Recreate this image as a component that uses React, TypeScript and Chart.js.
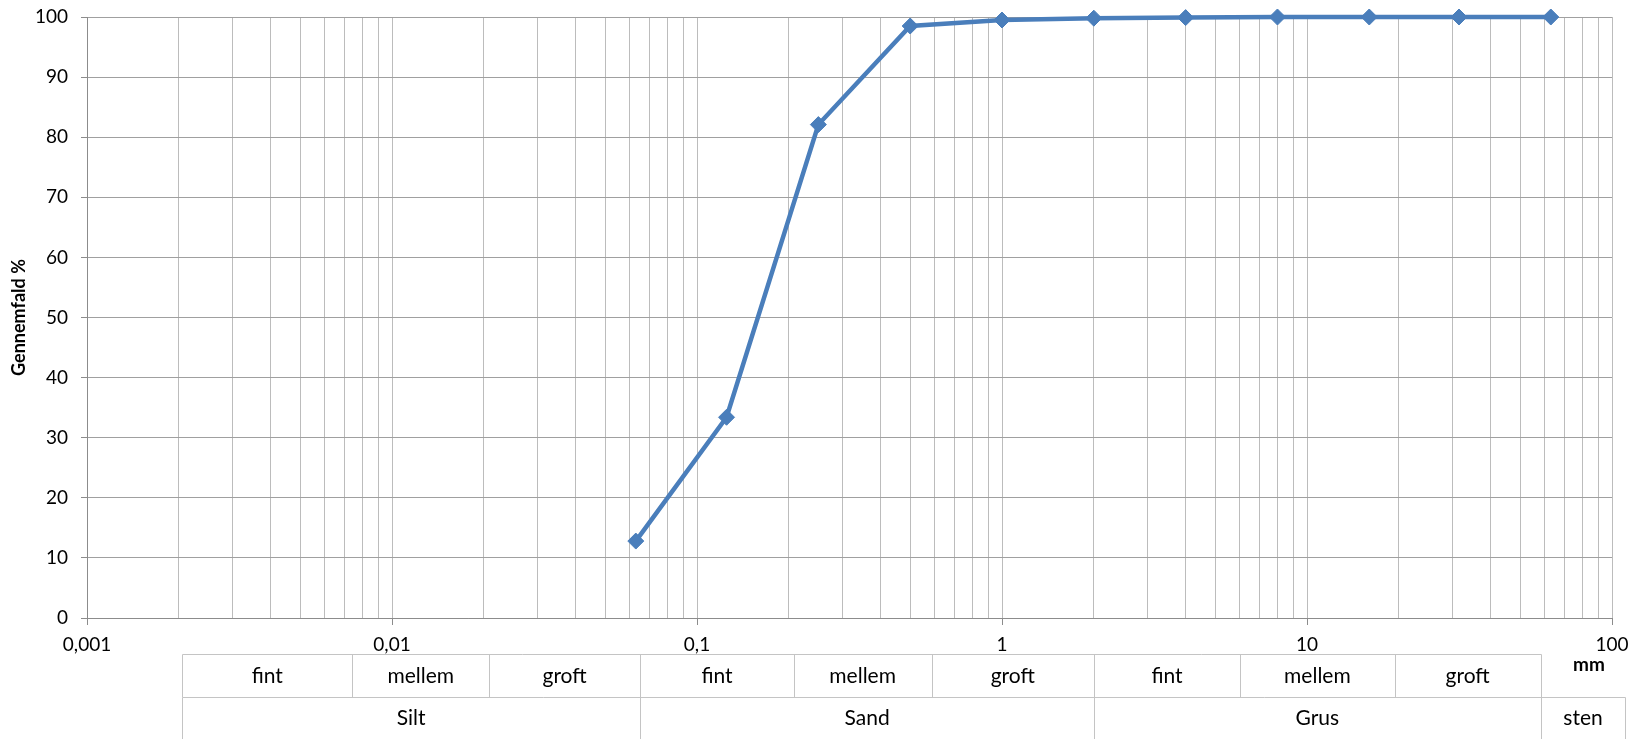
import React, { useEffect, useRef } from 'react';
import { Chart, registerables } from 'chart.js';

Chart.register(...registerables);

// Sieve sizes (mm) and passing percentages
const SIEVE_MM = [0.063, 0.125, 0.25, 0.5, 1, 2, 4, 8, 16, 31.5, 63];
const PASSING_PCT = [12.8, 33.4, 82.1, 98.5, 99.5, 99.8, 99.9, 100, 100, 100, 100];

// Axis ticks
const DECADES = [0.001, 0.01, 0.1, 1, 10, 100];
const DECADE_LABELS = ['0,001', '0,01', '0,1', '1', '10', '100'];
const MINOR_MULTIPLIERS = [2, 3, 4, 5, 6, 7, 8, 9];
const Y_MIN = 0;
const Y_MAX = 100;
const Y_STEP = 10;

// Soil class table (limits in mm)
const SUB_LIMITS = [0.00205, 0.00742, 0.0208, 0.0651, 0.2076, 0.5875, 2.003, 6.03, 19.4, 58.3];
const SUB_LABELS = ['fint', 'mellem', 'groft', 'fint', 'mellem', 'groft', 'fint', 'mellem', 'groft'];
const MAIN_LIMITS = [0.00205, 0.0651, 2.003, 58.3, 110.7];
const MAIN_LABELS = ['Silt', 'Sand', 'Grus', 'sten'];

const Y_TITLE = 'Gennemfald %';
const X_UNIT = 'mm';

const FONT = 'Lato, "Open Sans", sans-serif';

const X_TICK_VALUES: number[] = [];
DECADES.forEach((d, i) => {
  X_TICK_VALUES.push(d);
  if (i < DECADES.length - 1) {
    MINOR_MULTIPLIERS.forEach((m) => X_TICK_VALUES.push(parseFloat((d * m).toPrecision(6))));
  }
});

const decadeIndex = (v: number) => DECADES.findIndex((d) => Math.abs(d - v) / d < 1e-9);

const tablePlugin = {
  id: 'classTable',
  afterDraw(chart: any) {
    const { ctx } = chart;
    const x = chart.scales.x;
    const px = (v: number) => Math.round(x.getPixelForValue(v)) + 0.5;
    const top = 654.5;
    const mid = 697.5;
    const bottom = chart.height + 5;
    ctx.save();
    ctx.strokeStyle = '#c4c4c4';
    ctx.lineWidth = 1;
    ctx.beginPath();
    const l = px(SUB_LIMITS[0]);
    const r1 = px(SUB_LIMITS[SUB_LIMITS.length - 1]);
    const r2 = px(MAIN_LIMITS[MAIN_LIMITS.length - 1]);
    ctx.moveTo(l, top);
    ctx.lineTo(r1, top);
    ctx.moveTo(l, mid);
    ctx.lineTo(r2, mid);
    SUB_LIMITS.forEach((v) => {
      ctx.moveTo(px(v), top);
      ctx.lineTo(px(v), mid);
    });
    MAIN_LIMITS.forEach((v) => {
      ctx.moveTo(px(v), mid);
      ctx.lineTo(px(v), bottom);
    });
    ctx.stroke();

    ctx.fillStyle = '#000';
    ctx.textAlign = 'center';
    ctx.textBaseline = 'middle';
    ctx.font = `21px ${FONT}`;
    SUB_LABELS.forEach((t, i) => {
      const cx = (x.getPixelForValue(SUB_LIMITS[i]) + x.getPixelForValue(SUB_LIMITS[i + 1])) / 2;
      ctx.fillText(t, cx, 676);
    });
    MAIN_LABELS.forEach((t, i) => {
      const cx = (x.getPixelForValue(MAIN_LIMITS[i]) + x.getPixelForValue(MAIN_LIMITS[i + 1])) / 2;
      ctx.fillText(t, cx, 718);
    });
    ctx.font = `bold 19px ${FONT}`;
    ctx.fillText(X_UNIT, 1589, 665);
    ctx.restore();
  },
};

export default function App() {
  const ref = useRef<HTMLCanvasElement | null>(null);

  useEffect(() => {
    if (!ref.current) return;
    const chart = new Chart(ref.current, {
      type: 'line',
      data: {
        datasets: [
          {
            data: SIEVE_MM.map((s, i) => ({ x: s, y: PASSING_PCT[i] })),
            borderColor: '#4a7ebb',
            backgroundColor: '#4a7ebb',
            borderWidth: 4.5,
            pointStyle: 'rectRot',
            pointRadius: 8,
            pointBorderWidth: 1,
            pointBackgroundColor: '#4a7ebb',
            pointBorderColor: '#4a7ebb',
            tension: 0,
            clip: false as any,
          },
        ],
      },
      options: {
        animation: false,
        responsive: false,
        parsing: false as any,
        layout: { padding: { top: 17, right: 19, left: 0, bottom: 0 } },
        plugins: {
          legend: { display: false },
          tooltip: { enabled: false },
        },
        scales: {
          x: {
            type: 'logarithmic',
            min: DECADES[0],
            max: DECADES[DECADES.length - 1],
            afterBuildTicks: (s: any) => {
              s.ticks = X_TICK_VALUES.map((v) => ({ value: v }));
            },
            afterFit: (s: any) => {
              s.height = 121;
              s.paddingLeft = 0;
              s.paddingRight = 0;
            },
            ticks: {
              autoSkip: false,
              maxRotation: 0,
              padding: 8,
              color: '#000',
              font: { family: FONT, size: 19 },
              callback: (v: any) => {
                const i = decadeIndex(Number(v));
                return i >= 0 ? DECADE_LABELS[i] : '';
              },
            },
            grid: {
              color: '#bcbcbc',
              lineWidth: 1,
              tickLength: 7,
              tickColor: (c: any) =>
                c.tick && decadeIndex(c.tick.value) >= 0 ? '#8c8c8c' : 'rgba(0,0,0,0)',
            },
            border: { color: '#8c8c8c', width: 1 },
          },
          y: {
            type: 'linear',
            min: Y_MIN,
            max: Y_MAX,
            afterFit: (s: any) => {
              s.width = 87;
              s.paddingTop = 0;
              s.paddingBottom = 0;
            },
            ticks: {
              stepSize: Y_STEP,
              padding: 13,
              color: '#000',
              font: { family: FONT, size: 19 },
            },
            grid: {
              color: '#a0a0a0',
              lineWidth: 1,
              tickLength: 6,
              tickColor: '#8c8c8c',
            },
            border: { color: '#8c8c8c', width: 1 },
            title: {
              display: true,
              text: Y_TITLE,
              color: '#000',
              font: { family: FONT, size: 18, weight: 'bold' },
              padding: { top: 8, bottom: 0 },
            },
          },
        },
      },
      plugins: [tablePlugin],
    });
    return () => chart.destroy();
  }, []);

  return (
    <div style={{ position: 'absolute', left: 0, top: 0, width: 1631, height: 739 }}>
      <canvas ref={ref} width={1631} height={739} style={{ width: 1631, height: 739, display: 'block' }} />
    </div>
  );
}
